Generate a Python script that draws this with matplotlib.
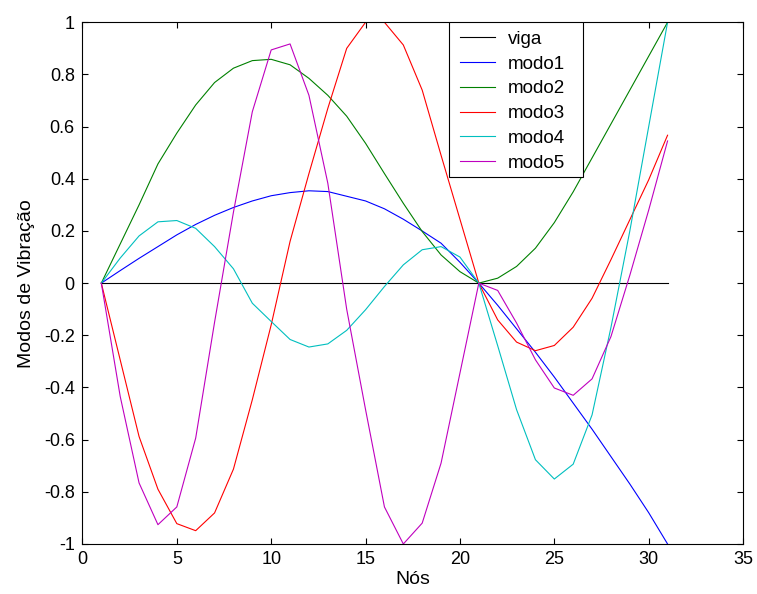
import numpy as np
import matplotlib
matplotlib.use('Agg')
import matplotlib.pyplot as plt
from matplotlib.patches import Rectangle

plt.rcParams['font.family'] = ['Liberation Sans', 'DejaVu Sans']

nos = np.arange(1, 32)

viga = np.zeros(31)

modo1 = [0, 0.048, 0.095, 0.14, 0.185, 0.225, 0.26, 0.29, 0.315, 0.335,
         0.347, 0.354, 0.351, 0.333, 0.315, 0.285, 0.245, 0.2, 0.153, 0.08,
         0, -0.085, -0.175, -0.265, -0.36, -0.46, -0.56, -0.665, -0.77, -0.88, -1.0]

modo2 = [0, 0.15, 0.30, 0.457, 0.575, 0.683, 0.769, 0.824, 0.853, 0.858,
         0.837, 0.785, 0.72, 0.64, 0.536, 0.42, 0.306, 0.198, 0.108, 0.044,
         0, 0.019, 0.064, 0.134, 0.232, 0.35, 0.48, 0.61, 0.74, 0.87, 1.0]

modo3 = [0, -0.294, -0.588, -0.79, -0.922, -0.949, -0.881, -0.713, -0.447, -0.16,
         0.16, 0.42, 0.67, 0.9, 1.0, 1.0, 0.913, 0.74, 0.49, 0.245,
         0, -0.141, -0.226, -0.259, -0.239, -0.169, -0.058, 0.09, 0.243, 0.396, 0.567]

modo4 = [0, 0.096, 0.181, 0.235, 0.24, 0.21, 0.14, 0.055, -0.077, -0.147,
         -0.216, -0.245, -0.233, -0.181, -0.102, -0.013, 0.07, 0.128, 0.14, 0.1,
         0, -0.24, -0.485, -0.677, -0.751, -0.694, -0.505, -0.17, 0.2, 0.6, 1.0]

modo5 = [0, -0.434, -0.766, -0.926, -0.858, -0.594, -0.15, 0.272, 0.657, 0.894,
         0.917, 0.72, 0.383, -0.1, -0.485, -0.858, -1.0, -0.92, -0.69, -0.345,
         0, -0.028, -0.153, -0.294, -0.402, -0.43, -0.367, -0.205, 0.03, 0.28, 0.545]

ytick_labels = ['-1', '-0.8', '-0.6', '-0.4', '-0.2', '0', '0.2', '0.4', '0.6', '0.8', '1']

fig = plt.figure(figsize=(7.57, 5.94), dpi=100)
ax = fig.add_axes([0.1089, 0.0842, 0.8727, 0.8783])

lw = 0.8
ax.plot(nos, viga, 'k', lw=lw, label='viga')
ax.plot(nos, modo1, 'b', lw=lw, label='modo1')
ax.plot(nos, modo2, 'g', lw=lw, label='modo2')
ax.plot(nos, modo3, 'r', lw=lw, label='modo3')
ax.plot(nos, modo4, 'c', lw=lw, label='modo4')
ax.plot(nos, modo5, 'm', lw=lw, label='modo5')

ax.set_xlim(0, 35)
ax.set_ylim(-1, 1)
ax.set_xticks(np.arange(0, 36, 5))
ax.set_yticks(np.linspace(-1, 1, 11))
ax.set_yticklabels(ytick_labels)
ax.tick_params(direction='in', top=True, right=True, length=4.3, width=0.8,
               labelsize=13)
ax.tick_params(axis='x', pad=5)
ax.tick_params(axis='y', pad=5.5)
for s in ax.spines.values():
    s.set_linewidth(0.8)

ax.set_xlabel('Nós', fontsize=14, labelpad=2)
ax.set_ylabel('Modos de Vibração', fontsize=14, labelpad=6)

# legend box drawn separately so its size can be set freely
box = Rectangle((0.5554, 0.704), 0.202, 0.296, transform=ax.transAxes,
                facecolor='white', edgecolor='k', lw=0.8, zorder=4)
ax.add_patch(box)
leg = ax.legend(loc='upper left', bbox_to_anchor=(0.5716, 0.984), fontsize=13.5,
                frameon=False, borderaxespad=0, borderpad=0,
                handlelength=1.87, handletextpad=0.68, labelspacing=0.41)
leg.set_zorder(5)

fig.savefig('out.png', dpi=100)
